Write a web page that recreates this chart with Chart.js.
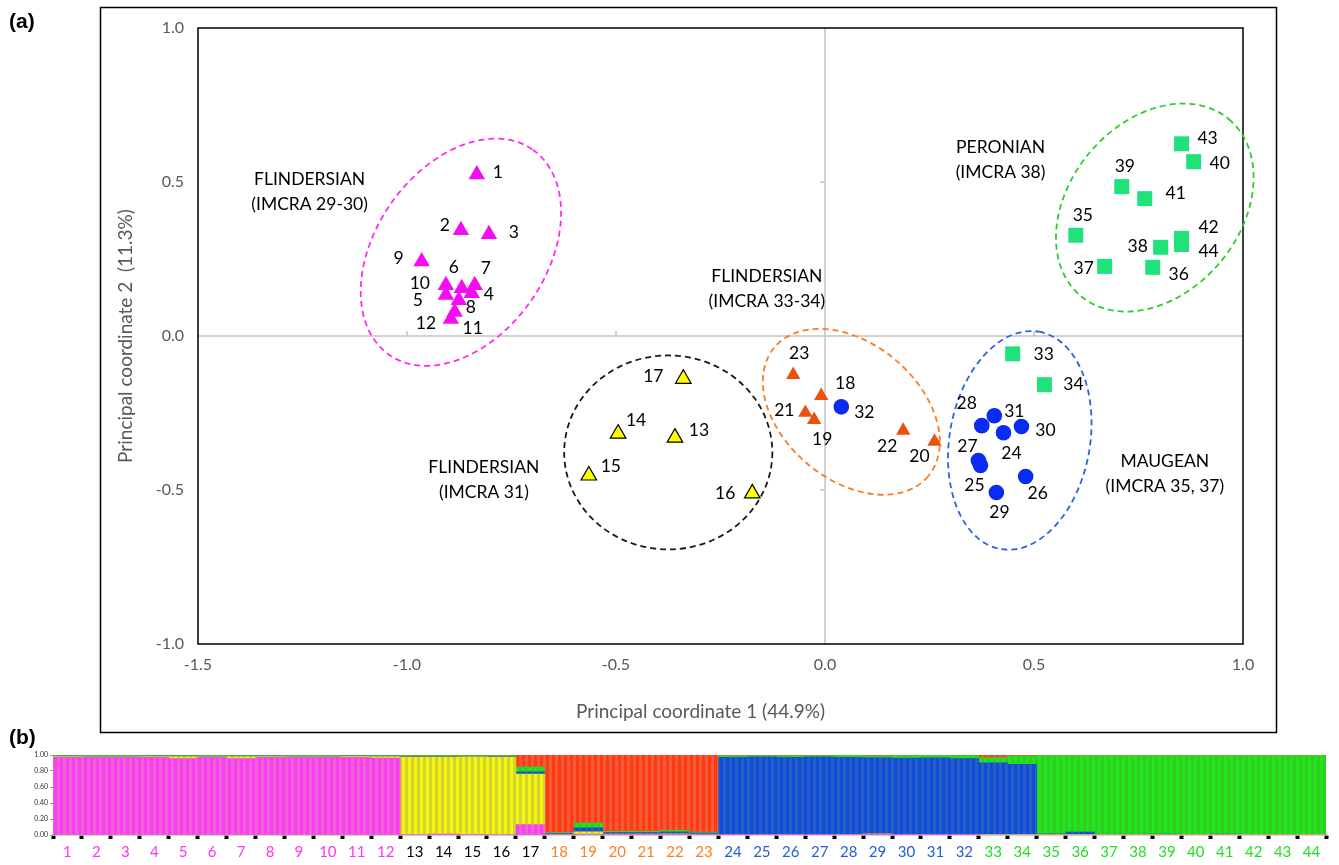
<!DOCTYPE html>
<html>
<head>
<meta charset="utf-8">
<script src="https://cdn.jsdelivr.net/npm/chart.js@4.4.1/dist/chart.umd.min.js"></script>
<style>
  html, body { margin: 0; padding: 0; background: #fff; }
  body { width: 1339px; height: 865px; position: relative; overflow: hidden; }
  #pcoa { position: absolute; left: 0; top: 0; }
  #structure { position: absolute; left: 0; top: 742px; }
  .panel { position: absolute; font: bold 21px "Liberation Sans", Arial, sans-serif; color: #000; }
</style>
</head>
<body>
<canvas id="pcoa" width="1339" height="740"></canvas>
<canvas id="structure" width="1339" height="123"></canvas>
<div class="panel" style="left:9px;top:9px">(a)</div>
<div class="panel" style="left:9px;top:725px">(b)</div>

<script>
// ---------- Panel (a): principal coordinates of the 44 populations ----------
const populations = ['1','2','3','4','5','6','7','8','9','10','11','12','13','14','15','16','17','18','19','20','21','22',
  '23','24','25','26','27','28','29','30','31','32','33','34','35','36','37','38','39','40','41','42','43','44'];

const pc1 = [-0.833, -0.871, -0.804, -0.845, -0.907, -0.869, -0.838, -0.876, -0.965, -0.907, -0.886, -0.895,
  -0.359, -0.495, -0.565, -0.174, -0.339,
  -0.009, -0.026, 0.262, -0.047, 0.187, -0.076,
  0.427, 0.372, 0.480, 0.367, 0.375, 0.410, 0.470, 0.405, 0.039,
  0.449, 0.525, 0.600, 0.784, 0.669, 0.803, 0.710, 0.882, 0.765, 0.853, 0.853, 0.853];

const pc2 = [0.524, 0.343, 0.330, 0.139, 0.133, 0.155, 0.165, 0.116, 0.242, 0.165, 0.078, 0.055,
  -0.330, -0.317, -0.453, -0.511, -0.139,
  -0.194, -0.272, -0.343, -0.249, -0.307, -0.126,
  -0.314, -0.420, -0.456, -0.404, -0.291, -0.508, -0.294, -0.259, -0.230,
  -0.058, -0.158, 0.327, 0.223, 0.226, 0.288, 0.485, 0.566, 0.446, 0.317, 0.624, 0.297];

// marker families (by population number range)
const markerGroups = [
  { first: 1,  last: 12, style: 'triangle', radius: 9.5, fill: '#f40cf2', line: '#f40cf2', lineWidth: 0 },
  { first: 13, last: 17, style: 'triangle', radius: 9,   fill: '#ffff00', line: '#000000', lineWidth: 1.2 },
  { first: 18, last: 23, style: 'triangle', radius: 8.3, fill: '#ea520c', line: '#ea520c', lineWidth: 0 },
  { first: 24, last: 32, style: 'circle',   radius: 7.8, fill: '#0a2cf2', line: '#0a2cf2', lineWidth: 0 },
  { first: 33, last: 44, style: 'rect',     radius: 10.6, fill: '#1fe27a', line: '#1fe27a', lineWidth: 0 }
];

// where each population number is written, relative to its marker (px)
const labelPlacement = {
  1:[21,-2], 2:[-16,-5], 3:[25,-2], 4:[17,1], 5:[-28,5], 6:[-8,-21], 7:[11,-17], 8:[12,7], 9:[-23,-3],
  10:[-26,-2], 11:[18,16], 12:[-25,4], 13:[24,-7], 14:[18,-13], 15:[22,-9], 16:[-27,0], 17:[-30,-2],
  18:[24,-12], 19:[8,20], 20:[-15,15], 21:[-21,-2], 22:[-16,16], 23:[6,-21], 24:[8,21], 25:[-6,20],
  26:[12,17], 27:[-11,-14], 28:[-15,-22], 29:[3,20], 30:[24,4], 31:[20,-4], 32:[23,6], 33:[31,0],
  34:[29,0], 35:[7,-20], 36:[26,7], 37:[-21,2], 38:[-23,-1], 39:[3,-20], 40:[26,2], 41:[31,-5],
  42:[27,-11], 43:[26,-5], 44:[27,7]
};

// bioregion names written on the ordination
const regionNames = [
  { lines: ['FLINDERSIAN', '(IMCRA 29-30)'], x: -1.233, y: 0.467 },
  { lines: ['FLINDERSIAN', '(IMCRA 33-34)'], x: -0.139, y: 0.152 },
  { lines: ['FLINDERSIAN', '(IMCRA 31)'],    x: -0.816, y: -0.466 },
  { lines: ['PERONIAN', '(IMCRA 38)'],       x: 0.420,  y: 0.572 },
  { lines: ['MAUGEAN', '(IMCRA 35, 37)'],    x: 0.813,  y: -0.446 }
];

// dashed outlines around each bioregion: centre in data units, semi-axes in x-axis units, screen angle
const regionOutlines = [
  { x: -0.871, y: 0.272,  a: 0.2995, b: 0.204, angle: -55, color: '#ff2cf0' },
  { x: -0.375, y: -0.378, a: 0.249,  b: 0.232, angle: 0,   color: '#1a1a1a' },
  { x: 0.063,  y: -0.246, a: 0.240,  b: 0.163, angle: 40,  color: '#ff7a22' },
  { x: 0.466,  y: -0.339, a: 0.264,  b: 0.168, angle: -80, color: '#2a60e4' },
  { x: 0.789,  y: 0.417,  a: 0.276,  b: 0.204, angle: -50, color: '#30cc30' }
];

const xTitle = 'Principal coordinate 1 (44.9%)';
const yTitle = 'Principal coordinate 2  (11.3%)';

const FONT = 'Lato, "Open Sans", sans-serif';
const GREY = '#595959';

const pcoaDatasets = markerGroups.map(g => {
  const pts = [];
  for (let i = g.first - 1; i < g.last; i++) pts.push({ x: pc1[i], y: pc2[i], pop: populations[i] });
  return {
    data: pts,
    pointStyle: g.style,
    pointRadius: g.radius,
    pointHoverRadius: g.radius,
    backgroundColor: g.fill,
    borderColor: g.line,
    borderWidth: g.lineWidth
  };
});

const pcoaDecor = {
  id: 'pcoaDecor',
  beforeDatasetsDraw(chart) {
    const { ctx, chartArea: ca, scales: { x, y } } = chart;
    ctx.save();
    // zero lines with small tick marks
    const x0 = x.getPixelForValue(0), y0 = y.getPixelForValue(0);
    ctx.strokeStyle = '#c4c4c4';
    ctx.lineWidth = 1.5;
    ctx.beginPath();
    ctx.moveTo(ca.left, y0); ctx.lineTo(ca.right, y0);
    ctx.moveTo(x0, ca.top); ctx.lineTo(x0, ca.bottom);
    [-1, -0.5, 0.5].forEach(v => { const px = x.getPixelForValue(v); ctx.moveTo(px, y0); ctx.lineTo(px, y0 - 5); });
    [0.5, -0.5].forEach(v => { const py = y.getPixelForValue(v); ctx.moveTo(x0, py); ctx.lineTo(x0 - 5, py); });
    ctx.stroke();
    // plot frame
    ctx.strokeStyle = '#000';
    ctx.lineWidth = 1.5;
    ctx.strokeRect(ca.left, ca.top, ca.right - ca.left, ca.bottom - ca.top);
    // dashed outlines
    const ppu = x.getPixelForValue(1) - x.getPixelForValue(0);
    regionOutlines.forEach(e => {
      ctx.save();
      ctx.translate(x.getPixelForValue(e.x), y.getPixelForValue(e.y));
      ctx.rotate(e.angle * Math.PI / 180);
      ctx.beginPath();
      ctx.ellipse(0, 0, e.a * ppu, e.b * ppu, 0, 0, Math.PI * 2);
      ctx.setLineDash([6, 4]);
      ctx.lineWidth = 1.8;
      ctx.strokeStyle = e.color;
      ctx.stroke();
      ctx.restore();
    });
    ctx.restore();
  },
  afterDatasetsDraw(chart) {
    const { ctx, scales: { x, y } } = chart;
    ctx.save();
    ctx.fillStyle = '#000';
    ctx.textAlign = 'center';
    ctx.textBaseline = 'middle';
    ctx.font = '17.5px ' + FONT;
    populations.forEach((p, i) => {
      const off = labelPlacement[p];
      ctx.fillText(p, x.getPixelForValue(pc1[i]) + off[0], y.getPixelForValue(pc2[i]) + off[1]);
    });
    regionNames.forEach(r => {
      const cx = x.getPixelForValue(r.x), cy = y.getPixelForValue(r.y);
      const gap = 25;
      r.lines.forEach((t, k) => ctx.fillText(t, cx, cy + (k - (r.lines.length - 1) / 2) * gap));
    });
    ctx.restore();
  },
  afterDraw(chart) {
    const { ctx, chartArea: ca } = chart;
    ctx.save();
    // horizontal axis title, set a little left of the plot centre
    ctx.fillStyle = GREY;
    ctx.font = '19px ' + FONT;
    ctx.textAlign = 'center';
    ctx.textBaseline = 'middle';
    ctx.fillText(xTitle, (ca.left + ca.right) / 2 - 20, 712);
    // outer frame of the panel
    ctx.strokeStyle = '#000';
    ctx.lineWidth = 1.5;
    ctx.strokeRect(100.5, 7.5, 1176, 725);
    ctx.restore();
  }
};

new Chart(document.getElementById('pcoa'), {
  type: 'scatter',
  data: { datasets: pcoaDatasets },
  options: {
    responsive: false,
    animation: false,
    events: [],
    layout: { padding: { left: 110, top: 28, right: 96, bottom: 13 } },
    plugins: { legend: { display: false }, tooltip: { enabled: false } },
    scales: {
      x: {
        type: 'linear', min: -1.5, max: 1.0,
        grid: { display: false, drawTicks: false },
        border: { display: false },
        ticks: { stepSize: 0.5, callback: v => v.toFixed(1), color: GREY, font: { family: FONT, size: 16 }, padding: 11 },
        afterFit: s => { s.height = 83; }
      },
      y: {
        type: 'linear', min: -1.0, max: 1.0,
        grid: { display: false, drawTicks: false },
        border: { display: false },
        ticks: { stepSize: 0.5, callback: v => v.toFixed(1), color: GREY, font: { family: FONT, size: 16 }, padding: 14 },
        title: { display: true, text: yTitle, color: GREY, font: { family: FONT, size: 19 }, padding: { top: 4, bottom: 4 } },
        afterFit: s => { s.width = 88; }
      }
    }
  },
  plugins: [pcoaDecor]
});

// ---------- Panel (b): cluster membership of each population ----------
const structurePops = populations;
const pinkShare   = [0.972,0.972,0.972,0.972,0.955,0.972,0.955,0.970,0.972,0.972,0.970,0.962,
  0.006,0.012,0.004,0.006,0.130, 0.004,0.010,0.004,0.004,0.004,0.004,
  0.002,0.002,0.002,0.002,0.006,0.012,0.002,0.002,0.002, 0,0,0,0,0,0,0,0,0,0,0,0];
const yellowShare = [0.008,0.006,0.006,0.008,0.025,0.006,0.025,0.010,0.006,0.006,0.012,0.018,
  0.968,0.962,0.972,0.968,0.630, 0.006,0.030,0.008,0.008,0.010,0.006,
  0.002,0.002,0.002,0.002,0.002,0.002,0.002,0.002,0.002, 0.002,0.002,0.002,0.002,0.002,0.002,0.002,0.002,0.002,0.002,0.002,0.002];
const blueShare   = [0.006,0.006,0.006,0.006,0.006,0.006,0.006,0.006,0.006,0.006,0.006,0.006,
  0.008,0.006,0.006,0.008,0.030, 0.012,0.050,0.020,0.020,0.025,0.015,
  0.968,0.972,0.968,0.972,0.962,0.955,0.958,0.962,0.950, 0.900,0.880,
  0.012,0.035,0.008,0.008,0.010,0.006,0.010,0.006,0.006,0.006];
const greenShare  = [0.008,0.010,0.010,0.008,0.008,0.010,0.008,0.008,0.010,0.010,0.006,0.008,
  0.010,0.012,0.010,0.010,0.060, 0.010,0.060,0.012,0.012,0.020,0.012,
  0.020,0.016,0.020,0.016,0.024,0.022,0.032,0.028,0.040, 0.065,0.105,
  0.980,0.957,0.984,0.984,0.982,0.986,0.982,0.986,0.986,0.986];
const redShare    = [0.006,0.006,0.006,0.006,0.006,0.006,0.006,0.006,0.006,0.006,0.006,0.006,
  0.008,0.008,0.008,0.008,0.150, 0.968,0.850,0.956,0.956,0.941,0.963,
  0.008,0.008,0.008,0.008,0.006,0.009,0.006,0.006,0.006, 0.033,0.013,
  0.006,0.006,0.006,0.006,0.006,0.006,0.006,0.006,0.006,0.006];

const structCanvas = document.getElementById('structure');
const sctx = structCanvas.getContext('2d');
function stripes(bright, muted) {
  const tile = document.createElement('canvas');
  tile.width = 6; tile.height = 4;
  const g = tile.getContext('2d');
  g.fillStyle = bright; g.fillRect(0, 0, 3, 4);
  g.fillStyle = muted;  g.fillRect(3, 0, 3, 4);
  return sctx.createPattern(tile, 'repeat');
}

const clusterSeries = [
  { data: pinkShare,   fill: stripes('#fb3cf4', '#ee62d4') },
  { data: yellowShare, fill: stripes('#f6f60c', '#d4d430') },
  { data: blueShare,   fill: stripes('#0d4ed8', '#2a5cc6') },
  { data: greenShare,  fill: stripes('#1ee81a', '#33cc22') },
  { data: redShare,    fill: stripes('#ff3a10', '#f25a3a') }
];

function popLabelColor(i) {
  const n = i + 1;
  if (n <= 12) return '#ff33ff';
  if (n <= 17) return '#000000';
  if (n <= 23) return '#ff7f1e';
  if (n <= 32) return '#1f5fd6';
  return '#22dd22';
}

new Chart(structCanvas, {
  type: 'bar',
  data: {
    labels: structurePops,
    datasets: clusterSeries.map(c => ({
      data: c.data, backgroundColor: c.fill, borderWidth: 0,
      barPercentage: 1, categoryPercentage: 1
    }))
  },
  options: {
    responsive: false,
    animation: false,
    events: [],
    layout: { padding: { left: 0, right: 13, top: 13, bottom: 0 } },
    plugins: { legend: { display: false }, tooltip: { enabled: false } },
    scales: {
      x: {
        stacked: true,
        grid: { offset: true, drawOnChartArea: false, drawTicks: true, tickLength: 4, tickWidth: 4, tickColor: '#000' },
        border: { color: '#a8a8a8', width: 1.5 },
        ticks: { autoSkip: false, maxRotation: 0, padding: 4,
          color: c => popLabelColor(c.index), font: { family: FONT, size: 15 } }
      },
      y: {
        stacked: true, min: 0, max: 1,
        grid: { drawOnChartArea: false, tickLength: 3, color: '#999' },
        border: { color: '#a8a8a8', width: 1 },
        ticks: { stepSize: 0.2, callback: v => v.toFixed(2), color: '#333', font: { family: FONT, size: 7 }, padding: 2 },
        afterFit: s => { s.width = 53; }
      }
    }
  }
});
</script>
</body>
</html>
